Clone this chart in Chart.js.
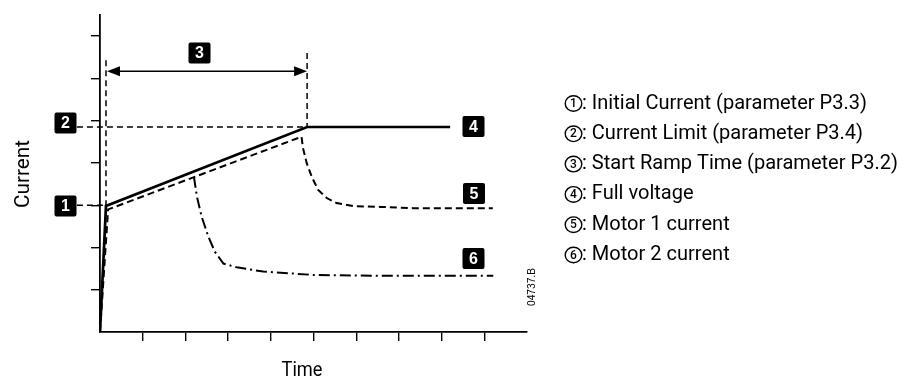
<!DOCTYPE html>
<html>
<head>
<meta charset="utf-8">
<script src="https://cdn.jsdelivr.net/npm/chart.js@4"></script>
<style>
  html, body { margin: 0; padding: 0; background: #fff; }
  #current_chart { display: block; }
</style>
</head>
<body>
<canvas id="current_chart" width="897" height="380"></canvas>
<script>
// curve values (x = time, y = current)
let fullVoltageX = [0, 0.14, 4.85, 8.2];
let fullVoltageY = [0, 2.98, 4.85, 4.85];

let motor1X = [0, 0.19, 4.72, 4.75, 4.84, 4.96, 5.11, 5.31, 5.54, 5.93, 6.56, 7.33, 9.2];
let motor1Y = [0, 2.90, 4.62, 4.37, 4.0, 3.67, 3.36, 3.17, 3.05, 2.98, 2.96, 2.93, 2.93];

let motor2X = [2.2, 2.27, 2.38, 2.54, 2.69, 2.89, 3.20, 3.82, 5.0, 6.56, 9.21];
let motor2Y = [3.67, 3.20, 2.73, 2.25, 1.90, 1.62, 1.53, 1.43, 1.35, 1.33, 1.33];

// guide levels
let initialCurrent = 3.0;
let currentLimit = 4.85;
let rampStart = 0.14;
let rampEnd = 4.85;

let legendItems = [
    ': Initial Current (parameter P3.3)',
    ': Current Limit (parameter P3.4)',
    ': Start Ramp Time (parameter P3.2)',
    ': Full voltage',
    ': Motor 1 current',
    ': Motor 2 current'
];

function toPoints(xs, ys) {
    return xs.map((x, i) => ({ x: x, y: ys[i] }));
}

function box(ctx, cx, cy, label) {
    ctx.fillStyle = '#000';
    ctx.beginPath();
    ctx.roundRect(cx - 11, cy - 10.5, 22, 21, 2);
    ctx.fill();
    ctx.fillStyle = '#fff';
    ctx.font = 'bold 16px "Liberation Sans"';
    ctx.textAlign = 'center';
    ctx.textBaseline = 'middle';
    ctx.fillText(label, cx, cy + 1);
}

function segment(ctx, x1, y1, x2, y2) {
    ctx.beginPath();
    ctx.moveTo(x1, y1);
    ctx.lineTo(x2, y2);
    ctx.stroke();
}

// narrow text: squeeze the string horizontally to the width seen in the picture
function narrowText(ctx, txt, x, y, width, angle) {
    let sx = width / ctx.measureText(txt).width;
    ctx.save();
    ctx.translate(x, y);
    if (angle) ctx.rotate(angle);
    ctx.scale(sx, 1);
    ctx.fillText(txt, 0, 0);
    ctx.restore();
}

let annotations = {
    id: 'annotations',
    afterDatasetsDraw(chart) {
        let ctx = chart.ctx;
        let xs = chart.scales.x;
        let ys = chart.scales.y;
        ctx.save();

        // guide lines
        ctx.strokeStyle = '#000';
        ctx.lineWidth = 1.5;
        ctx.setLineDash([6, 4]);
        segment(ctx, xs.getPixelForValue(-0.54), ys.getPixelForValue(initialCurrent), xs.getPixelForValue(0.08), ys.getPixelForValue(initialCurrent));
        segment(ctx, xs.getPixelForValue(-0.54), ys.getPixelForValue(currentLimit), xs.getPixelForValue(rampEnd), ys.getPixelForValue(currentLimit));
        segment(ctx, xs.getPixelForValue(rampStart), ys.getPixelForValue(6.43), xs.getPixelForValue(rampStart), ys.getPixelForValue(initialCurrent));
        segment(ctx, xs.getPixelForValue(rampEnd), ys.getPixelForValue(6.6), xs.getPixelForValue(rampEnd), ys.getPixelForValue(currentLimit));
        ctx.setLineDash([]);

        // ramp time arrow
        let ay = ys.getPixelForValue(6.17);
        let ax1 = xs.getPixelForValue(rampStart) + 1;
        let ax2 = xs.getPixelForValue(rampEnd);
        ctx.lineWidth = 1.5;
        segment(ctx, ax1 + 6, ay, ax2 - 6, ay);
        ctx.fillStyle = '#000';
        ctx.beginPath();
        ctx.moveTo(ax1, ay); ctx.lineTo(ax1 + 13, ay - 5); ctx.lineTo(ax1 + 13, ay + 5); ctx.closePath();
        ctx.fill();
        ctx.beginPath();
        ctx.moveTo(ax2, ay); ctx.lineTo(ax2 - 13, ay - 5); ctx.lineTo(ax2 - 13, ay + 5); ctx.closePath();
        ctx.fill();

        // numbered boxes
        box(ctx, 65.5, 206, '1');
        box(ctx, 65.5, 123, '2');
        box(ctx, 199.5, 53, '3');
        box(ctx, 473.5, 126.5, '4');
        box(ctx, 474, 193.5, '5');
        box(ctx, 473.5, 258.5, '6');

        // legend on the right
        ctx.font = '20px Roboto';
        let base = ctx.measureText(legendItems[0]).width;
        let sx = 285 / base;
        ctx.fillStyle = '#000';
        ctx.textBaseline = 'middle';

        legendItems.forEach((txt, i) => {
            let cy = 103.5 + i * 30.3;
            ctx.lineWidth = 1.4;
            ctx.beginPath();
            ctx.ellipse(573.5, cy, 8.3, 7.8, 0, 0, Math.PI * 2);
            ctx.stroke();
            ctx.font = '500 12px Roboto';
            ctx.textAlign = 'center';
            ctx.fillText(String(i + 1), 573.5, cy + 0.5);
            ctx.font = '20px Roboto';
            ctx.textAlign = 'left';
            narrowText(ctx, txt, 582, cy, ctx.measureText(txt).width * sx);
        });

        // axis titles
        ctx.textAlign = 'center';
        narrowText(ctx, 'Time', 302, 371, 41);
        ctx.textBaseline = 'alphabetic';
        narrowText(ctx, 'Current', 29, 174, 68, -Math.PI / 2);

        // drawing number
        ctx.textBaseline = 'middle';
        ctx.font = '11px "Liberation Sans"';
        narrowText(ctx, '04737.B', 532, 287, 38, -Math.PI / 2);

        ctx.restore();
    }
};

let canvas = document.querySelector('#current_chart');

let chartData = {
    datasets: [{
        label: 'Full voltage',
        data: toPoints(fullVoltageX, fullVoltageY),
        borderColor: '#000',
        borderWidth: 2.7,
        pointRadius: 0,
        tension: 0
    }, {
        label: 'Motor 1 current',
        data: toPoints(motor1X, motor1Y),
        borderColor: '#000',
        borderWidth: 2,
        borderDash: [7, 4],
        pointRadius: 0,
        tension: 0
    }, {
        label: 'Motor 2 current',
        data: toPoints(motor2X, motor2Y),
        borderColor: '#000',
        borderWidth: 2,
        borderDash: [11, 4, 2, 4],
        pointRadius: 0,
        tension: 0
    }]
}

let chartOptions = {
    responsive: false,
    animation: false,
    events: [],
    layout: {
        padding: { left: 91, right: 370, top: 15, bottom: 39 }
    },
    scales: {
        x: {
            type: 'linear',
            min: 0,
            max: 10,
            afterFit: (s) => { s.height = 9 },
            ticks: { display: false, stepSize: 1 },
            grid: {
                drawOnChartArea: false,
                tickLength: 9,
                lineWidth: 1.4,
                color: (c) => (c.tick && (c.tick.value === 0 || c.tick.value === 10)) ? 'rgba(0,0,0,0)' : '#000'
            },
            border: { color: '#000', width: 1.8 }
        },
        y: {
            type: 'linear',
            min: 0,
            max: 7.5,
            afterFit: (s) => { s.width = 9 },
            ticks: { display: false, stepSize: 1 },
            grid: {
                drawOnChartArea: false,
                tickLength: 9,
                lineWidth: 1.4,
                color: (c) => (c.tick && (c.tick.value === 0 || c.tick.value === 7.5)) ? 'rgba(0,0,0,0)' : '#000'
            },
            border: { color: '#000', width: 1.8 }
        }
    },
    plugins: {
        legend: { display: false },
        tooltip: { enabled: false }
    }
}

let chart = new Chart(canvas, {
    type: 'line',
    data: chartData,
    options: chartOptions,
    plugins: [annotations]
})
</script>
</body>
</html>
